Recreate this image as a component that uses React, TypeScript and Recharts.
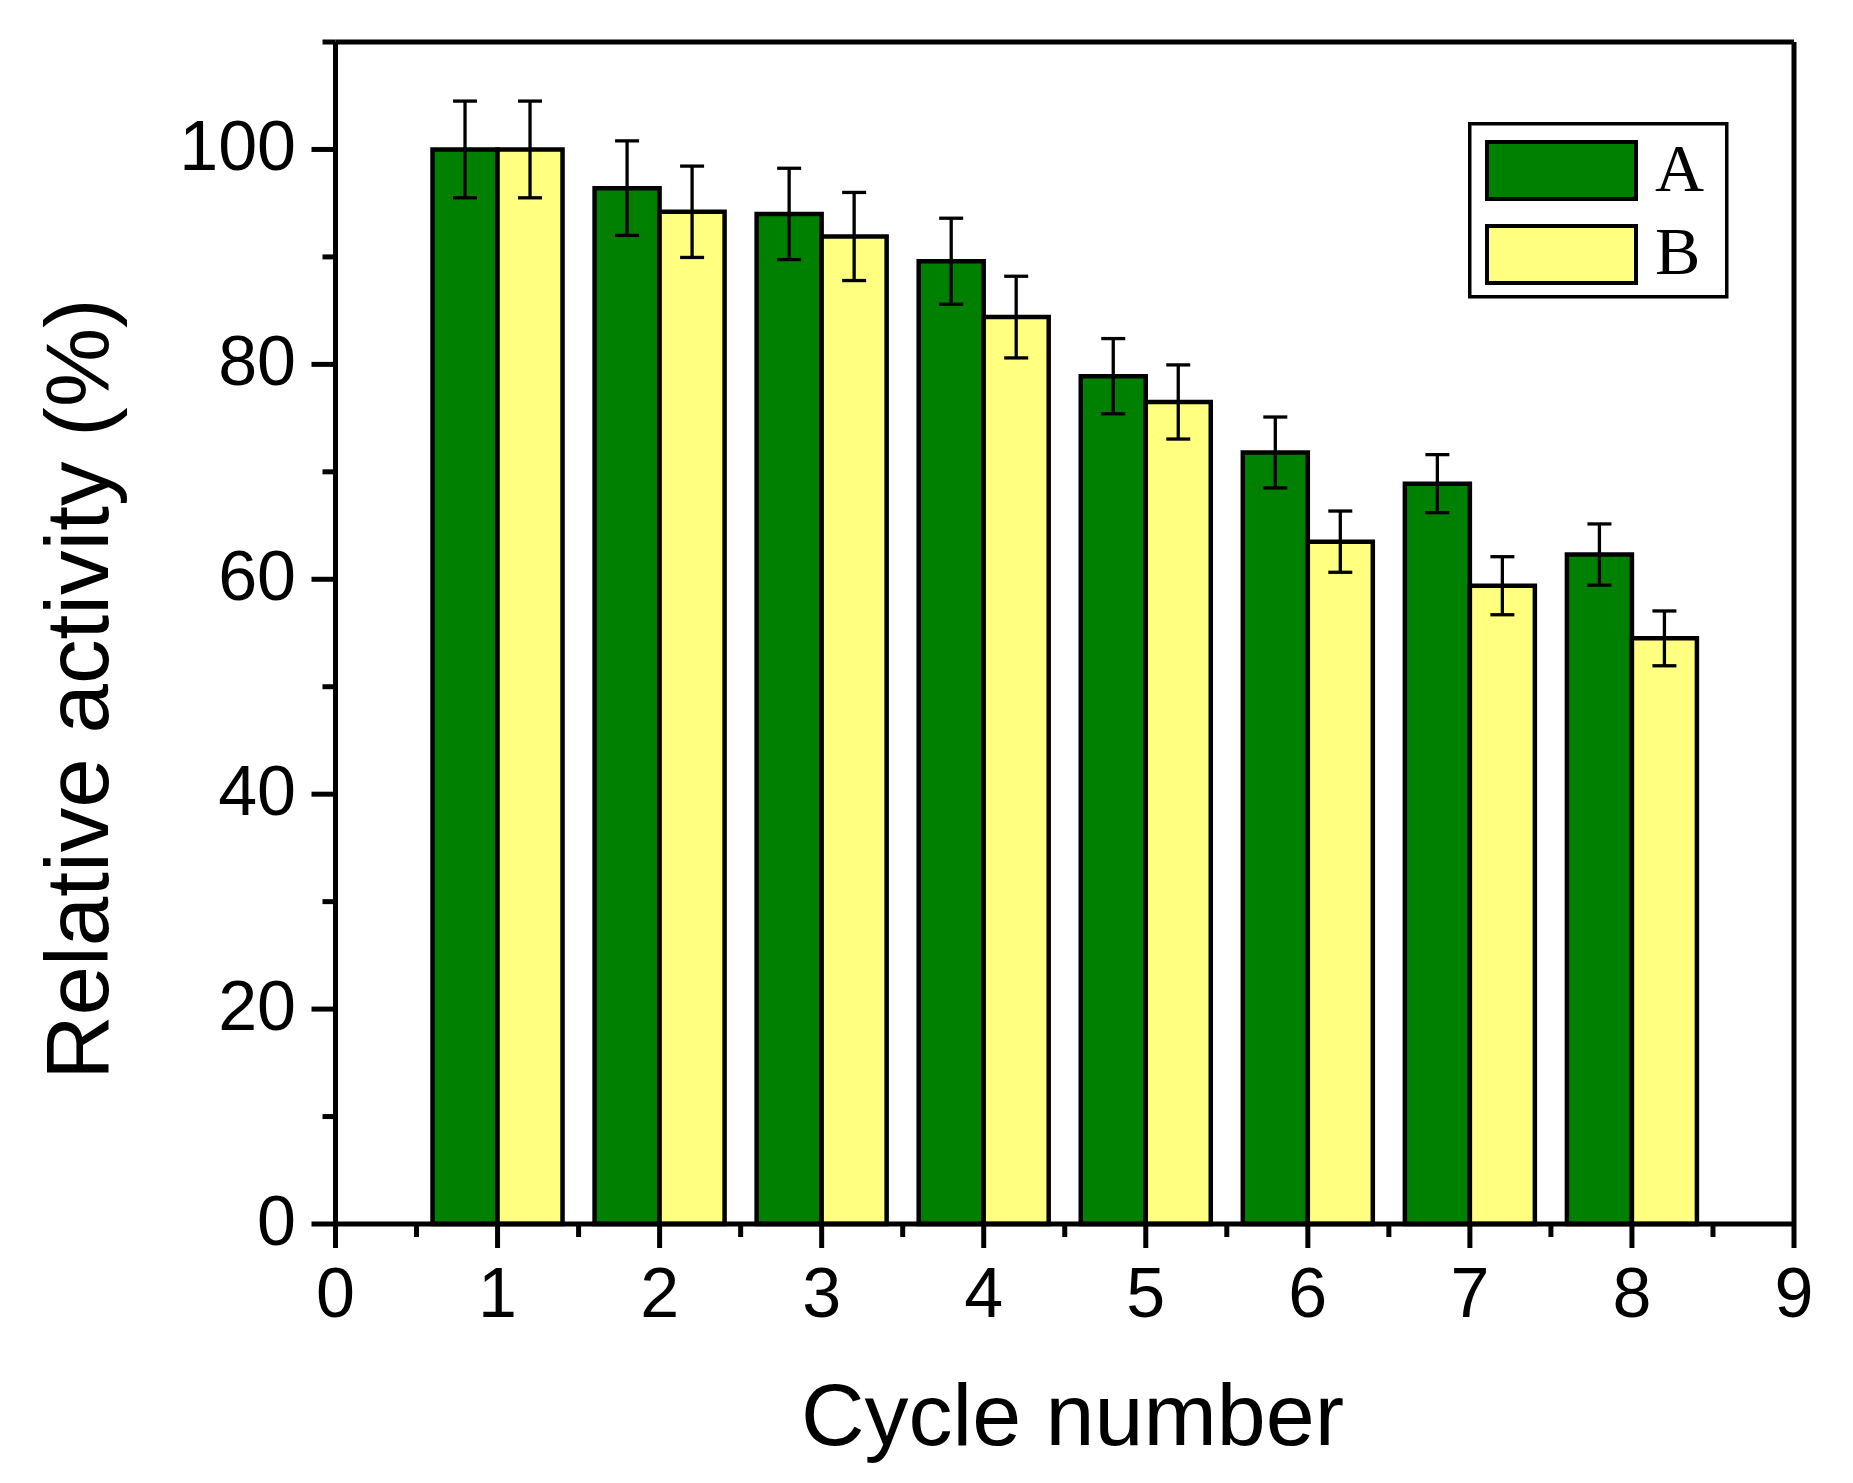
import React from "react"
import { BarChart, Bar, XAxis, YAxis, ErrorBar, Legend, ReferenceLine } from "recharts"

const cycles = [1, 2, 3, 4, 5, 6, 7, 8]
const activityA = [100, 96.4, 94.0, 89.6, 78.9, 71.8, 68.9, 62.3]
const errorA = [4.5, 4.4, 4.25, 4.0, 3.5, 3.3, 2.7, 2.85]
const activityB = [100, 94.2, 91.9, 84.4, 76.5, 63.5, 59.4, 54.5]
const errorB = [4.5, 4.25, 4.1, 3.8, 3.45, 2.85, 2.7, 2.55]

// major ticks get labels, the half-steps are minor ticks
const xTicks = [0, 0.5, 1, 1.5, 2, 2.5, 3, 3.5, 4, 4.5, 5, 5.5, 6, 6.5, 7, 7.5, 8, 8.5, 9]
const yTicks = [0, 10, 20, 30, 40, 50, 60, 70, 80, 90, 100, 110]
const xMax = 9
const yMax = 110

const data = cycles.map((c, i) => ({
  cycle: c,
  A: activityA[i],
  errA: errorA[i],
  B: activityB[i],
  errB: errorB[i],
}))

const sans = "'Liberation Sans', Arial, sans-serif"
const serif = "'Liberation Serif', 'Times New Roman', serif"

const XTick = (props: any) => {
  const { x, y, payload } = props
  const major = Number.isInteger(payload.value)
  return (
    <g>
      <line x1={x} y1={y} x2={x} y2={y + (major ? 24 : 13)} stroke="#000" strokeWidth={5} />
      {major && (
        <text x={x} y={y + 93} textAnchor="middle" fontFamily={sans} fontSize={70} fill="#000">
          {payload.value}
        </text>
      )}
    </g>
  )
}

const YTick = (props: any) => {
  const { x, y, payload } = props
  const major = payload.value % 20 === 0
  return (
    <g>
      <line x1={x} y1={y} x2={x - (major ? 24 : 13)} y2={y} stroke="#000" strokeWidth={5} />
      {major && (
        <text x={x - 39.5} y={y + 21} textAnchor="end" fontFamily={sans} fontSize={70} fill="#000">
          {payload.value}
        </text>
      )}
    </g>
  )
}

const renderLegend = (props: any) => {
  const payload = props.payload || []
  return (
    <svg width={262} height={178} style={{ display: "block" }}>
      <rect x={1.75} y={1.75} width={257} height={173} fill="#fff" stroke="#000" strokeWidth={3.5} />
      {payload.map((entry: any, i: number) => (
        <g key={entry.value}>
          <rect x={19} y={20 + i * 84} width={149} height={57} fill={entry.color} stroke="#000" strokeWidth={4} />
          <text x={187} y={69 + i * 83} fontFamily={serif} fontSize={68} fill="#000">
            {entry.value}
          </text>
        </g>
      ))}
    </svg>
  )
}

export default function App() {
  return (
    <div style={{ width: 1845, height: 1475 }}>
      <BarChart
        width={1845}
        height={1475}
        data={data}
        margin={{ top: 34, right: 59, bottom: 0, left: 0 }}
        barGap={0}
        barSize={65}
      >
        <XAxis
          dataKey="cycle"
          type="number"
          domain={[0, xMax]}
          ticks={xTicks}
          interval={0}
          height={259}
          axisLine={{ stroke: "#000", strokeWidth: 5 }}
          tickLine={false}
          tickSize={0}
          tickMargin={0}
          tick={<XTick />}
        />
        <YAxis
          type="number"
          domain={[0, yMax]}
          ticks={yTicks}
          interval={0}
          width={327.5}
          axisLine={{ stroke: "#000", strokeWidth: 5 }}
          tickLine={false}
          tickSize={0}
          tickMargin={0}
          tick={<YTick />}
        />
        <ReferenceLine y={yMax} stroke="#000" strokeWidth={5} />
        <ReferenceLine x={xMax} stroke="#000" strokeWidth={5} />
        <Bar dataKey="A" name="A" fill="#008000" stroke="#000" strokeWidth={4.5} isAnimationActive={false}>
          <ErrorBar dataKey="errA" width={12} stroke="#000" strokeWidth={3.3} direction="y" />
        </Bar>
        <Bar dataKey="B" name="B" fill="#FFFF80" stroke="#000" strokeWidth={4.5} isAnimationActive={false}>
          <ErrorBar dataKey="errB" width={12} stroke="#000" strokeWidth={3.3} direction="y" />
        </Bar>
        <Legend
          layout="horizontal"
          verticalAlign="middle"
          align="center"
          content={renderLegend}
          wrapperStyle={{ position: "absolute", left: 1460, top: 114, width: 262, height: 178 }}
        />
        <text x={1064.5} y={1437} textAnchor="middle" fontFamily={sans} fontSize={88} fill="#000">
          Cycle number
        </text>
        <text
          x={100}
          y={681}
          transform="rotate(-90, 100, 681)"
          textAnchor="middle"
          fontFamily={sans}
          fontSize={89}
          fill="#000"
        >
          Relative activity (%)
        </text>
      </BarChart>
    </div>
  )
}
